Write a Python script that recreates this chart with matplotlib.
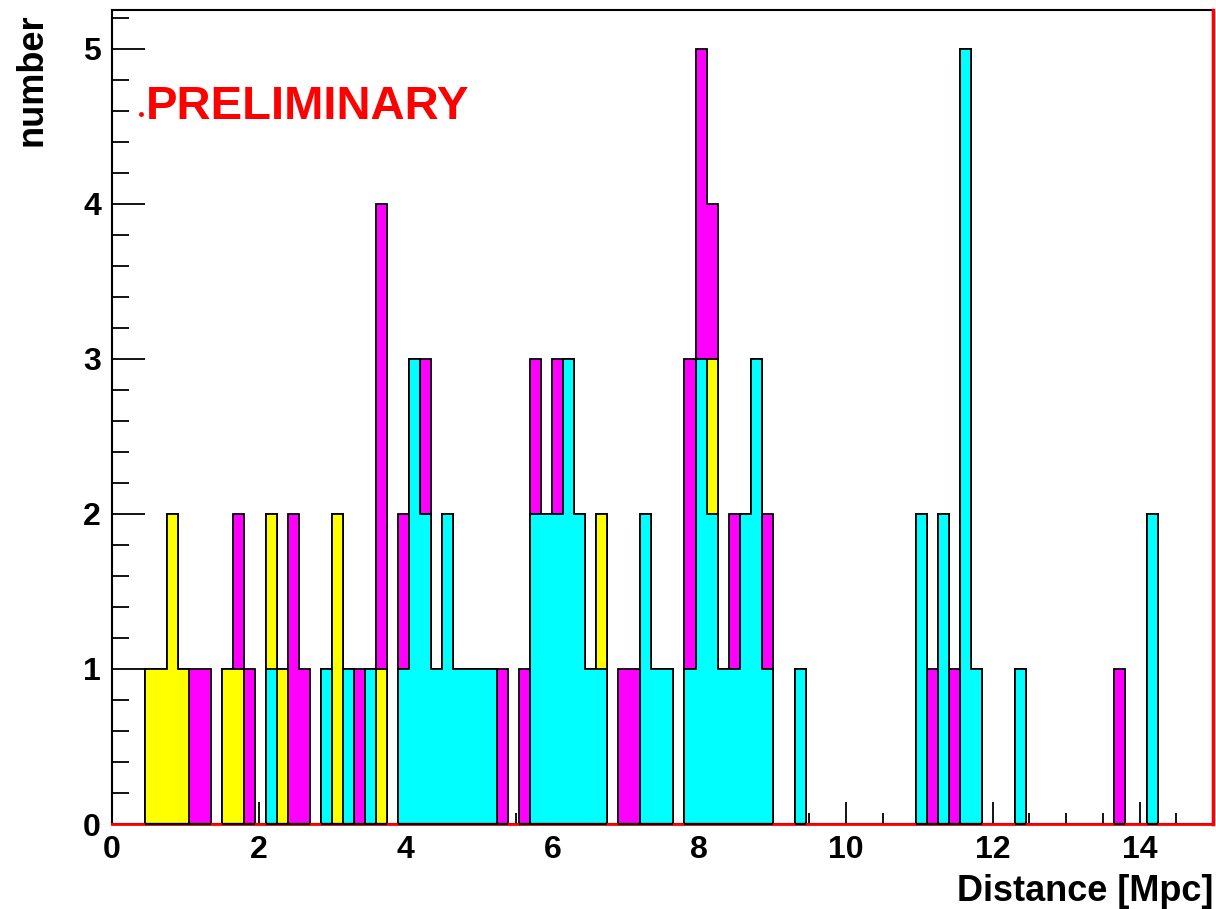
import numpy as np
import matplotlib
matplotlib.use("Agg")
import matplotlib.pyplot as plt
from matplotlib.ticker import MultipleLocator

# ── Data: counts per 0.15 Mpc bin, 100 bins over 0-15 Mpc ────────────────
bin_lo, bin_hi, n_bins = 0.0, 15.0, 100

cyan_counts = [
    0, 0, 0, 0, 0, 0, 0, 0, 0, 0, 0, 0, 0, 0, 1, 0, 0, 0, 0, 1,
    0, 1, 0, 1, 0, 0, 1, 3, 2, 1, 2, 1, 1, 1, 1, 0, 0, 0, 2, 2,
    2, 3, 2, 1, 1, 0, 0, 0, 2, 1, 1, 0, 1, 3, 2, 1, 1, 2, 3, 1,
    0, 0, 1, 0, 0, 0, 0, 0, 0, 0, 0, 0, 0, 2, 0, 2, 0, 5, 1, 0,
    0, 0, 1, 0, 0, 0, 0, 0, 0, 0, 0, 0, 0, 0, 2, 0, 0, 0, 0, 0,
]
yellow_counts = [
    0, 0, 0, 1, 1, 2, 1, 0, 0, 0, 1, 1, 0, 0, 1, 1, 0, 0, 0, 0,
    2, 0, 0, 0, 1, 0, 0, 0, 0, 0, 0, 0, 0, 0, 0, 0, 0, 0, 0, 0,
    0, 0, 0, 0, 1, 0, 0, 0, 0, 0, 0, 0, 0, 0, 1, 0, 0, 0, 0, 0,
    0, 0, 0, 0, 0, 0, 0, 0, 0, 0, 0, 0, 0, 0, 0, 0, 0, 0, 0, 0,
    0, 0, 0, 0, 0, 0, 0, 0, 0, 0, 0, 0, 0, 0, 0, 0, 0, 0, 0, 0,
]
magenta_counts = [
    0, 0, 0, 0, 0, 0, 0, 1, 1, 0, 0, 1, 1, 0, 0, 0, 2, 1, 0, 0,
    0, 0, 1, 0, 3, 0, 1, 0, 1, 0, 0, 0, 0, 0, 0, 1, 0, 1, 1, 0,
    1, 0, 0, 0, 0, 0, 1, 1, 0, 0, 0, 0, 2, 2, 1, 0, 1, 0, 0, 1,
    0, 0, 0, 0, 0, 0, 0, 0, 0, 0, 0, 0, 0, 0, 1, 0, 1, 0, 0, 0,
    0, 0, 0, 0, 0, 0, 0, 0, 0, 0, 0, 1, 0, 0, 0, 0, 0, 0, 0, 0,
]

edges = np.linspace(bin_lo, bin_hi, n_bins + 1)
c = np.array(cyan_counts)
y = np.array(yellow_counts)
m = np.array(magenta_counts)

# stacked like a THStack: cyan at bottom, then yellow, then magenta
total = c + y + m
stack = [
    (total, "#FF00FF"),
    (c + y, "#FFFF00"),
    (c, "#00FFFF"),
]

# ── Plot ───────────────────────────────────────────────────────────────────
plt.rcParams.update({
    "font.family": ["Liberation Sans", "DejaVu Sans"],
    "font.weight": "bold",
})

fig = plt.figure(figsize=(12.16, 9.09), dpi=100)
ax = fig.add_axes([0.0921, 0.0935, 0.9054, 0.8955])

for vals, col in stack:
    ax.stairs(vals, edges, fill=True, facecolor=col, edgecolor="black",
              linewidth=1.3, zorder=2)

# red zero line shows only in the empty bins
ax.plot([bin_lo, bin_hi], [0, 0], color="red", lw=2.0, zorder=3,
        clip_on=False)
filled = total > 0
ax.hlines(np.zeros(filled.sum()), edges[:-1][filled], edges[1:][filled],
          color="black", lw=1.6, zorder=3.5, clip_on=False)
ax.plot([bin_hi, bin_hi], [0, 5.25], color="red", lw=2.5, zorder=3,
        clip_on=False)

ax.set_xlim(bin_lo, bin_hi)
ax.set_ylim(0, 5.25)

ax.xaxis.set_major_locator(MultipleLocator(2))
ax.xaxis.set_minor_locator(MultipleLocator(0.5))
ax.yaxis.set_major_locator(MultipleLocator(1))
ax.yaxis.set_minor_locator(MultipleLocator(0.2))

ax.tick_params(axis="both", which="both", direction="in", width=1.3,
               top=False, right=False, labelsize=23)
ax.tick_params(axis="x", which="major", length=16, pad=8)
ax.tick_params(axis="x", which="minor", length=8)
ax.tick_params(axis="y", which="major", length=24, pad=8)
ax.tick_params(axis="y", which="minor", length=12)
for lab in ax.get_xticklabels() + ax.get_yticklabels():
    lab.set_fontweight("bold")

for sp in ax.spines.values():
    sp.set_linewidth(1.5)
    sp.set_zorder(2.5)

fig.text(0.9975, 0.009, "Distance [Mpc]", ha="right", va="baseline",
         fontsize=26, fontweight="bold")
fig.text(0.012, 0.985, "number", ha="left", va="top", rotation=90,
         fontsize=26, fontweight="bold")

ax.text(0.46, 4.55, "PRELIMINARY", color="red", fontsize=34,
        fontweight="bold", ha="left", va="baseline")
ax.plot([0.39], [4.58], "o", color="red", markersize=2.5)

fig.savefig("out.png", dpi=100)
